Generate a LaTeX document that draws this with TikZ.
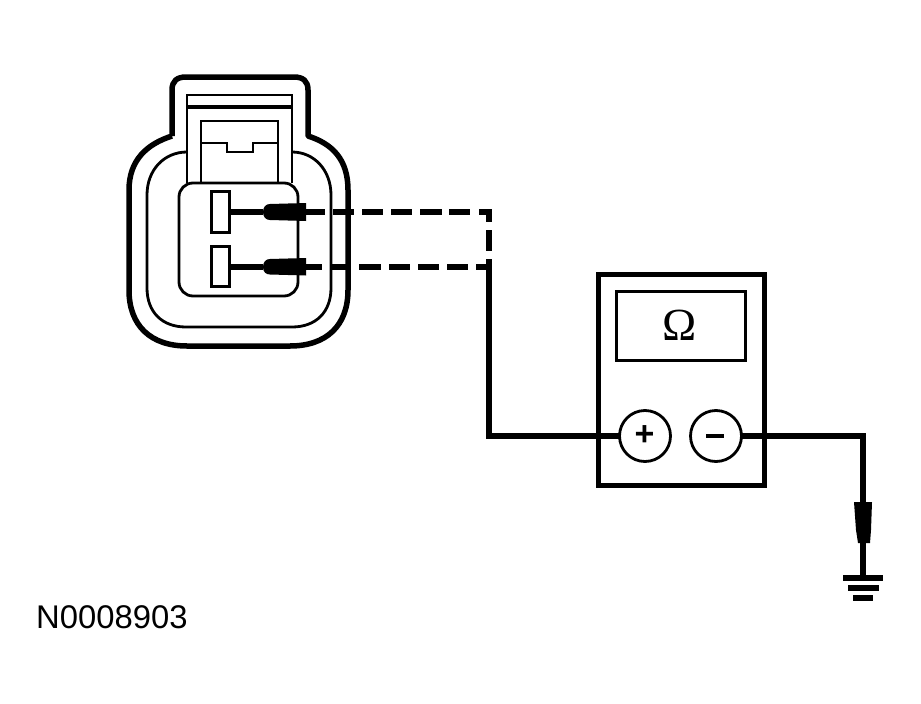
\documentclass[tikz,border=0pt]{standalone}
\usepackage{fontspec}
\setmainfont{Liberation Sans}
\newfontfamily\omfont{Liberation Serif}
\tikzset{
  boxnode/.style={draw,line width=#1,inner sep=0pt,outer sep=0pt,fill=white},
  boxnode/.default=3pt,
  wire/.style={line width=5.5pt},
  thin line/.style={line width=2.8pt},
  probe/.style={fill=black,draw=none},
  dial/.style={circle,draw,line width=2.8pt,minimum size=51pt,inner sep=0pt,outer sep=0pt,fill=white},
}
\begin{document}
\begin{tikzpicture}[x=1pt,y=-1pt]
\useasboundingbox (0,0) rectangle (921,704);
% housing
\draw[line width=5.5pt,line join=round]
  (172,136) -- (172,90) .. controls (172,81) and (177,77) .. (186,77)
  -- (294,77) .. controls (303,77) and (308,81) .. (308,90) -- (308,136)
  .. controls (333,144) and (348,160) .. (348,190) -- (348,290)
  .. controls (348,326) and (326,346) .. (290,346) -- (187,346)
  .. controls (151,346) and (129,326) .. (129,290) -- (129,190)
  .. controls (129,160) and (147,144) .. (172,136);
\draw[thin line]
  (187,152) .. controls (164,152) and (147,170) .. (147,195) -- (147,288)
  .. controls (147,312) and (162,327) .. (186,327) -- (292,327)
  .. controls (316,327) and (331,312) .. (331,288) -- (331,195)
  .. controls (331,170) and (314,152) .. (292,152);
% latch
\draw[thin line] (187,183) -- (187,95) -- (292,95) -- (292,183);
\draw[line width=3.8pt] (187,107) -- (292,107);
\draw[thin line] (201,183) -- (201,121) -- (278,121) -- (278,183);
\draw[thin line] (201,143) -- (227,143) -- (227,152) -- (253,152) -- (253,143) -- (278,143);
% pin block
\draw[thin line,rounded corners=14pt] (179,183) rectangle (298,296);
\node[boxnode,minimum width=18pt,minimum height=41pt] (pinA) at (220,211.5) {};
\node[boxnode,minimum width=18pt,minimum height=40pt] (pinB) at (220,266) {};
% probes
\coordinate (tipA) at (263,212);
\coordinate (tipB) at (263,267);
\coordinate (cornerA) at (489,212);
\coordinate (cornerB) at (489,267);
\coordinate (endA) at (306,212);
\coordinate (endB) at (306,267);
\draw[wire] (pinA.east |- tipA) -- (tipA);
\draw[wire] (pinB.east |- tipB) -- (tipB);
\fill[probe] (263,212) .. controls (263,207) and (266,204) .. (270,204) -- (288,203.5) -- (306,203) -- (306,221) -- (288,220.5) -- (270,220) .. controls (266,220) and (263,217) .. (263,212) -- cycle;
\fill[probe] (263,267) .. controls (263,262) and (266,259) .. (270,259) -- (288,258.5) -- (306,258) -- (306,275.5) -- (288,275) -- (270,274.5) .. controls (266,274.5) and (263,272) .. (263,267) -- cycle;
% dashed wires
\draw[wire] (endA) -- (325,212);
\draw[wire] (333,212) -- (354,212) (362,212) -- (383,212) (391,212) -- (412,212) (420,212) -- (442,212) (449,212) -- (470,212);
\draw[wire,line join=miter] (479,212) -- (cornerA) -- (489,222);
\draw[wire] (489,230) -- (489,251);
\draw[wire] (endB) -- (322,267);
\draw[wire] (331,267) -- (351,267) (359,267) -- (381,267) (389,267) -- (410,267) (418,267) -- (439,267) (447,267) -- (468,267) (476,267) -- (cornerB);
% meter
\node[boxnode=5pt,minimum width=166pt,minimum height=211pt] (meter) at (681,379.5) {};
\node[boxnode=3pt,minimum width=129pt,minimum height=69pt] (display) at (680.5,325.5) {};
\node[font=\omfont\fontsize{46}{46}\selectfont,inner sep=0pt] (ohm) at (679.5,325) {Ω};
\node[dial] (plus) at (645,436) {};
\node[dial] (minus) at (716,436) {};
\node[font=\bfseries\fontsize{34}{34}\selectfont,inner sep=0pt] (plusSign) at (644.5,436) {+};
\fill (706,433.5) rectangle (724,437.5);
\coordinate (bendP) at (489,436);
\coordinate (bendM) at (863,436);
\coordinate (probeTop) at (863,503);
\coordinate (probeEnd) at (863,543);
\coordinate (gndTop) at (863,578);
\draw[wire,line join=miter] (489,259) -- (bendP) -- (plus.west);
\draw[wire,line join=miter] (minus.east) -- (bendM) -- (probeTop);
\draw[wire] (probeEnd) -- (gndTop);
\fill[probe] (854,502) -- (872,502) -- (871,530) -- (870,543) -- (858,543) -- (856,530) -- cycle;
\draw[wire] (843,578) -- (883,578);
\draw[wire] (848,588) -- (879,588);
\draw[wire] (853,598) -- (873,598);
\node[anchor=base west,inner sep=0pt,font=\fontsize{32.8}{33}\selectfont] (label) at (36,628) {N0008903};
\end{tikzpicture}
\end{document}
